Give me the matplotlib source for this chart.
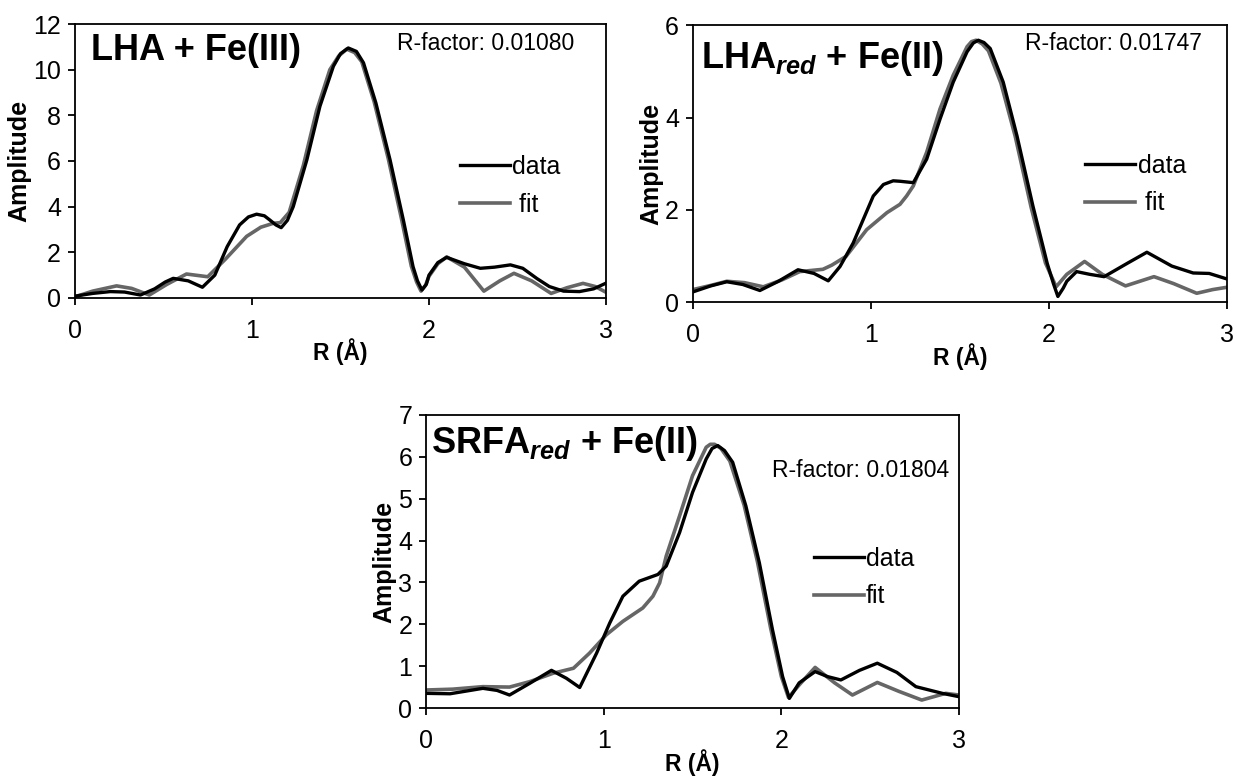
import matplotlib
matplotlib.use("Agg")
import matplotlib.pyplot as plt

plt.rcParams['font.family'] = ['Liberation Sans', 'DejaVu Sans']
plt.rcParams['mathtext.fontset'] = 'custom'
plt.rcParams['mathtext.rm'] = 'Liberation Sans:bold'
plt.rcParams['mathtext.bf'] = 'Liberation Sans:bold'
plt.rcParams['mathtext.it'] = 'Liberation Sans:bold:italic'
plt.rcParams['mathtext.bfit'] = 'Liberation Sans:bold:italic'

# LHA + Fe(III)
r1_data = [0, 0.1, 0.2, 0.28, 0.37, 0.45, 0.51, 0.555, 0.64, 0.72, 0.79, 0.86, 0.93, 0.98, 1.026,
           1.07, 1.1, 1.135, 1.165, 1.2, 1.233, 1.31, 1.384, 1.46, 1.50, 1.544, 1.59, 1.63, 1.70,
           1.78, 1.855, 1.91, 1.935, 1.96, 1.985, 2.0, 2.05, 2.1, 2.2, 2.29, 2.37, 2.46, 2.53,
           2.61, 2.68, 2.76, 2.85, 2.93, 3.0]
a1_data = [0.08, 0.2, 0.28, 0.26, 0.13, 0.4, 0.7, 0.86, 0.75, 0.47, 1.0, 2.25, 3.2, 3.55, 3.67,
           3.6, 3.42, 3.2, 3.08, 3.4, 4.0, 6.05, 8.4, 10.15, 10.7, 10.95, 10.8, 10.3, 8.54,
           6.05, 3.42, 1.37, 0.75, 0.35, 0.6, 1.0, 1.55, 1.78, 1.5, 1.3, 1.35, 1.45, 1.3,
           0.85, 0.5, 0.3, 0.28, 0.4, 0.65]
r1_fit = [0, 0.1, 0.235, 0.32, 0.42, 0.52, 0.63, 0.75, 0.85, 0.97, 1.05, 1.12, 1.16, 1.21, 1.29,
          1.365, 1.44, 1.49, 1.535, 1.58, 1.62, 1.69, 1.77, 1.845, 1.90, 1.93, 1.955, 1.98, 2.0,
          2.05, 2.1, 2.2, 2.31, 2.4, 2.48, 2.58, 2.69, 2.78, 2.87, 2.94, 3.0]
a1_fit = [0.05, 0.3, 0.53, 0.42, 0.13, 0.6, 1.05, 0.93, 1.7, 2.7, 3.1, 3.27, 3.3, 3.75, 5.8,
          8.2, 10.0, 10.6, 10.9, 10.75, 10.35, 8.6, 6.1, 3.45, 1.4, 0.7, 0.3, 0.55, 0.95,
          1.5, 1.8, 1.35, 0.3, 0.75, 1.08, 0.75, 0.2, 0.45, 0.64, 0.5, 0.25]

# LHAred + Fe(II)
r2_data = [0, 0.1, 0.19, 0.28, 0.376, 0.48, 0.59, 0.68, 0.76, 0.826, 0.90, 1.013, 1.07, 1.125,
           1.163, 1.238, 1.313, 1.388, 1.462, 1.54, 1.575, 1.603, 1.635, 1.67, 1.743, 1.82, 1.91,
           1.99, 2.025, 2.05, 2.08, 2.1, 2.155, 2.23, 2.31, 2.44, 2.55, 2.69, 2.81, 2.9, 3.0]
a2_data = [0.22, 0.35, 0.44, 0.38, 0.25, 0.45, 0.70, 0.62, 0.46, 0.77, 1.28, 2.3, 2.55, 2.63,
           2.62, 2.59, 3.1, 3.97, 4.77, 5.43, 5.62, 5.68, 5.63, 5.5, 4.77, 3.61, 2.08,
           0.84, 0.4, 0.12, 0.3, 0.45, 0.66, 0.6, 0.55, 0.84, 1.08, 0.78, 0.63, 0.62, 0.5]
r2_fit = [0, 0.1, 0.19, 0.29, 0.395, 0.5, 0.6, 0.73, 0.78, 0.86, 0.976, 1.09, 1.163, 1.2, 1.238,
          1.313, 1.388, 1.462, 1.54, 1.565, 1.59, 1.625, 1.66, 1.73, 1.81, 1.90, 1.98, 2.04,
          2.1, 2.2, 2.3, 2.43, 2.59, 2.7, 2.83, 2.92, 3.0]
a2_fit = [0.27, 0.36, 0.45, 0.42, 0.33, 0.48, 0.66, 0.71, 0.8, 0.99, 1.57, 1.94, 2.12, 2.3, 2.52,
          3.25, 4.19, 4.92, 5.54, 5.65, 5.68, 5.6, 5.45, 4.75, 3.6, 2.05, 0.85, 0.33,
          0.6, 0.88, 0.6, 0.35, 0.55, 0.4, 0.19, 0.27, 0.32]

# SRFAred + Fe(II)
r3_data = [0, 0.135, 0.32, 0.40, 0.47, 0.584, 0.706, 0.79, 0.865, 0.96, 1.034, 1.108, 1.2, 1.305,
           1.352, 1.427, 1.50, 1.577, 1.61, 1.642, 1.68, 1.726, 1.80, 1.876, 1.95, 2.007, 2.045,
           2.1, 2.19, 2.26, 2.335, 2.44, 2.54, 2.65, 2.757, 2.906, 3.0]
a3_data = [0.35, 0.34, 0.47, 0.42, 0.31, 0.59, 0.9, 0.71, 0.49, 1.31, 2.03, 2.67, 3.03, 3.19,
           3.39, 4.19, 5.15, 5.95, 6.2, 6.27, 6.15, 5.87, 4.83, 3.47, 1.87, 0.75, 0.23,
           0.6, 0.87, 0.75, 0.67, 0.9, 1.07, 0.85, 0.51, 0.35, 0.27]
r3_fit = [0, 0.15, 0.32, 0.47, 0.584, 0.715, 0.83, 0.92, 1.015, 1.108, 1.22, 1.277, 1.315, 1.352,
          1.427, 1.50, 1.577, 1.6, 1.624, 1.66, 1.71, 1.79, 1.865, 1.94, 2.0, 2.04, 2.1, 2.19,
          2.3, 2.40, 2.54, 2.66, 2.79, 2.925, 3.0]
a3_fit = [0.43, 0.45, 0.51, 0.50, 0.63, 0.83, 0.95, 1.31, 1.75, 2.07, 2.39, 2.67, 2.99, 3.63,
          4.59, 5.55, 6.23, 6.3, 6.3, 6.2, 5.9, 4.85, 3.5, 1.9, 0.75, 0.25, 0.55, 0.97,
          0.6, 0.31, 0.61, 0.4, 0.19, 0.35, 0.31]

titles = ['LHA + Fe(III)', r'LHA$_{\mathbfit{red}}$ + Fe(II)', r'SRFA$_{\mathbfit{red}}$ + Fe(II)']
rfactors = ['R-factor: 0.01080', 'R-factor: 0.01747', 'R-factor: 0.01804']
ymaxes = [12, 6, 7]
ysteps = [2, 2, 1]
fit_labels = [' fit', ' fit', 'fit']

panels = [
    dict(rect=[0.0606, 0.6165, 0.4293, 0.3526], leg=(0.725, 0.41), rf=(0.606, 0.905), ti=(0.03, 0.869)),
    dict(rect=[0.5602, 0.6113, 0.4317, 0.3559], leg=(0.735, 0.425), rf=(0.622, 0.911), ti=(0.015, 0.846)),
    dict(rect=[0.3444, 0.0888, 0.4309, 0.3771], leg=(0.727, 0.445), rf=(0.649, 0.788), ti=(0.01, 0.87)),
]
series = [(r1_data, a1_data, r1_fit, a1_fit),
          (r2_data, a2_data, r2_fit, a2_fit),
          (r3_data, a3_data, r3_fit, a3_fit)]

fig = plt.figure(figsize=(12.37, 7.77), dpi=100)

for i, p in enumerate(panels):
    ax = fig.add_axes(p['rect'])
    rd, ad, rf, af = series[i]
    ax.plot(rf, af, color='#666666', lw=2.6, label=fit_labels[i], zorder=2,
            solid_joinstyle='round')
    ax.plot(rd, ad, color='black', lw=2.4, label='data', zorder=3, solid_joinstyle='round')
    ax.set_xlim(0, 3)
    ax.set_ylim(0, ymaxes[i])
    ax.set_xticks([0, 1, 2, 3])
    ax.set_yticks(range(0, ymaxes[i] + 1, ysteps[i]))
    ax.tick_params(axis='both', labelsize=18, length=5, width=1.3, direction='out')
    ax.tick_params(axis='x', pad=10)
    ax.tick_params(axis='y', pad=5)
    for s in ax.spines.values():
        s.set_linewidth(1.3)
    ax.set_xlabel('R (Å)', fontsize=16.5, fontweight='bold', labelpad=-3)
    ax.set_ylabel('Amplitude', fontsize=18, fontweight='bold', labelpad=1)
    h, l = ax.get_legend_handles_labels()
    ax.legend(h[::-1], l[::-1], loc='center left', bbox_to_anchor=p['leg'], frameon=False,
              fontsize=18, handlelength=2.0, handletextpad=0.1, labelspacing=0.55,
              borderpad=0, borderaxespad=0)
    ax.text(p['rf'][0], p['rf'][1], rfactors[i], transform=ax.transAxes, fontsize=16.5)
    ax.text(p['ti'][0], p['ti'][1], titles[i], transform=ax.transAxes, fontsize=26,
            fontweight='bold')

fig.savefig('out.png', dpi=100)
